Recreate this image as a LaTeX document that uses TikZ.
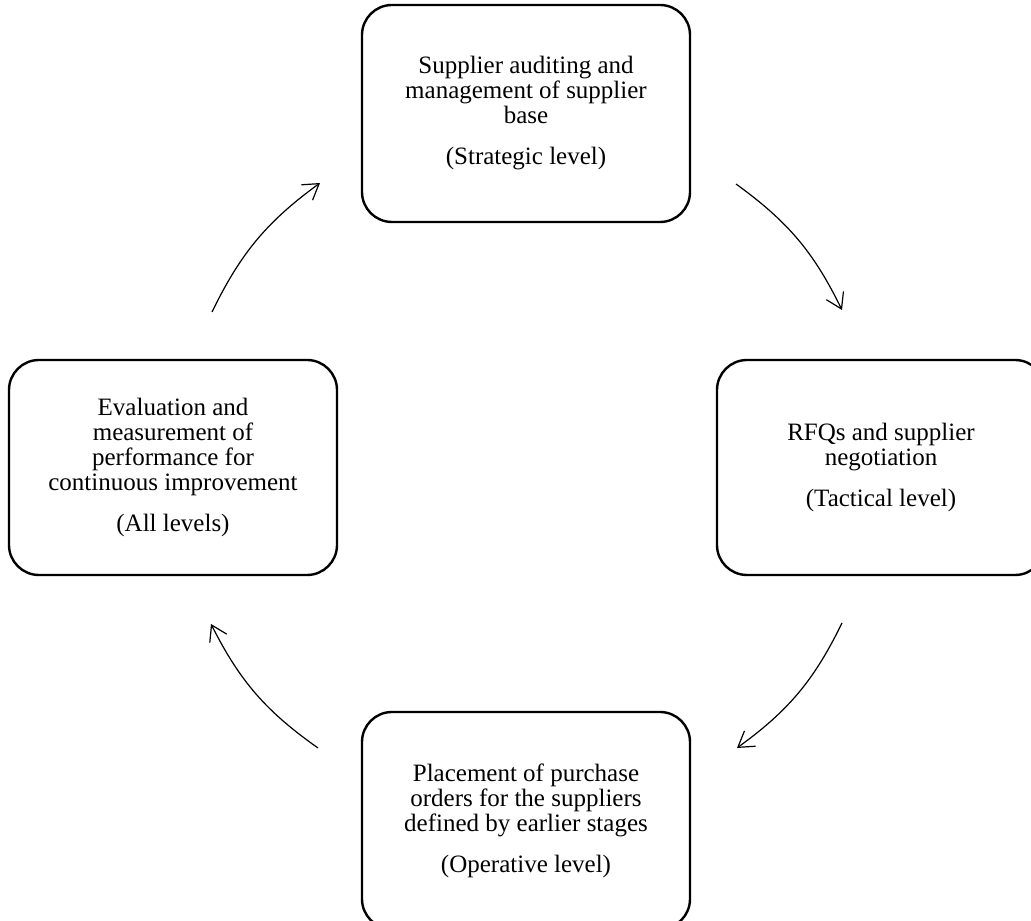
\documentclass[tikz,border=0pt]{standalone}
\usepackage{fontspec}
\setmainfont{Liberation Serif}
\usetikzlibrary{arrows.meta}

\tikzset{
  stage/.style={draw=black, line width=2.4pt, rounded corners=30pt,
    minimum width=328pt, align=center, inner sep=0pt,
    font=\fontsize{25}{25}\selectfont},
  flow/.style={line width=1.2pt, -{Straight Barb[length=15pt,width=19pt,line width=1.2pt]}},
}

\begin{document}
\begin{tikzpicture}[x=1pt,y=1pt]
  \useasboundingbox (0,0) rectangle (1031,921);

  % the four stages of the cycle
  \node[stage, minimum height=217pt] (strategic) at (526,807.5)
    {Supplier auditing and\\management of supplier\\base\\[16pt](Strategic level)};
  \node[stage, minimum height=215pt] (tactical) at (881,453.5)
    {RFQs and supplier\\negotiation\\[16pt](Tactical level)};
  \node[stage, minimum height=217pt] (operative) at (526,100.5)
    {Placement of purchase\\orders for the suppliers\\defined by earlier stages\\[16pt](Operative level)};
  \node[stage, minimum height=215pt] (alllevels) at (173,453.5)
    {Evaluation and\\measurement of\\performance for\\continuous improvement\\[16pt](All levels)};

  % ends of the curved connectors
  \coordinate (a1s) at (212,609);
  \coordinate (a1e) at (320,738);
  \coordinate (a2s) at (736,737);
  \coordinate (a2e) at (842,611);
  \coordinate (a3s) at (842,298);
  \coordinate (a3e) at (737,173);
  \coordinate (a4s) at (318,173);
  \coordinate (a4e) at (211,297);

  \draw[flow] (a1s) to[bend left=14] (a1e);
  \draw[flow] (a2s) to[bend left=14] (a2e);
  \draw[flow] (a3s) to[bend left=14] (a3e);
  \draw[flow] (a4s) to[bend left=14] (a4e);
\end{tikzpicture}
\end{document}
